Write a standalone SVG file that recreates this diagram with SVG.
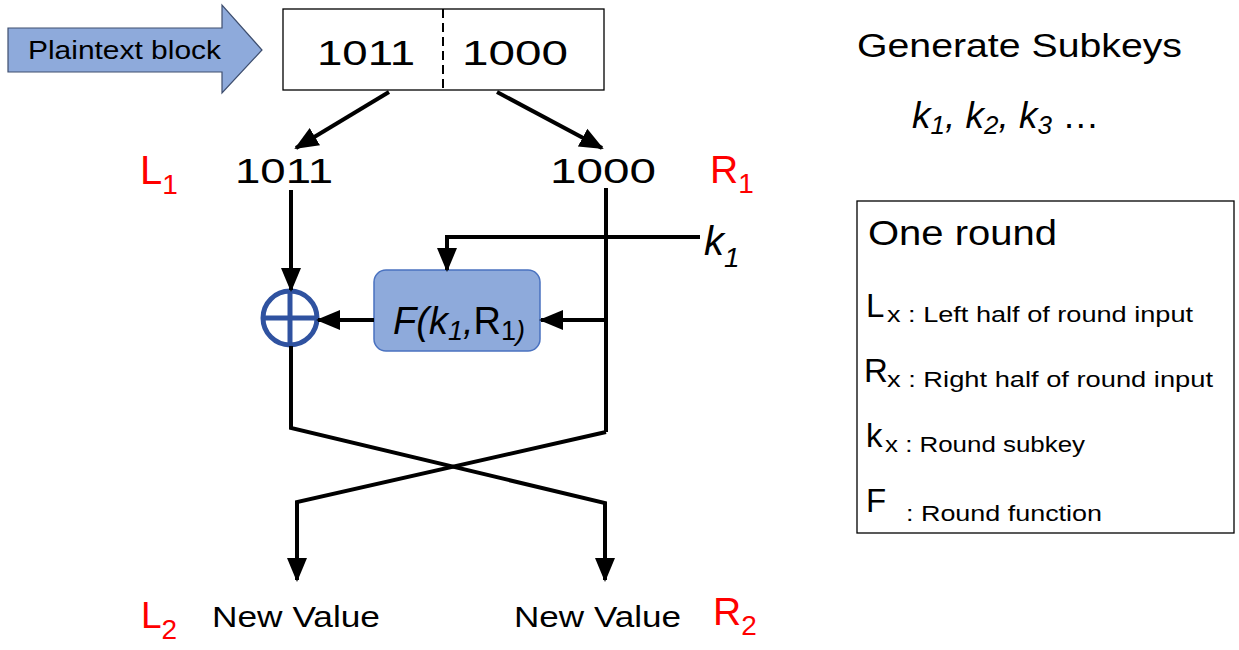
<svg xmlns="http://www.w3.org/2000/svg" width="1239" height="650" viewBox="0 0 1239 650">
<defs>
<style>
.t{font-family:"Liberation Sans","Open Sans",sans-serif;fill:#000}
.red{font-family:"Liberation Sans","Open Sans",sans-serif;fill:#ff0000}
.ln{stroke:#000;stroke-width:4;fill:none}
.it{font-style:italic}
</style>
<marker id="ah" markerUnits="userSpaceOnUse" markerWidth="24" markerHeight="24" viewBox="0 0 24 24" refX="22" refY="12" orient="auto">
<path d="M0,2 L24,12 L0,22 Z" fill="#000"/>
</marker>
</defs>
<rect width="1239" height="650" fill="#fff"/>

<g id="plaintext-arrow">
<path d="M8,28 H222 V5 L262,50 L222,93 V72 H8 Z" fill="#8eaadb" stroke="#3e4e6e" stroke-width="1.2"/>
<text class="t" x="28" y="59" font-size="25" textLength="193" lengthAdjust="spacingAndGlyphs">Plaintext block</text>
</g>

<g id="block">
<rect x="283" y="9" width="321" height="81" fill="#fff" stroke="#000" stroke-width="1.3"/>
<line x1="443" y1="9" x2="443" y2="90" stroke="#000" stroke-width="2" stroke-dasharray="9,5"/>
<text class="t" x="317" y="65" font-size="35" textLength="98" lengthAdjust="spacingAndGlyphs">1011</text>
<text class="t" x="462" y="65" font-size="35" textLength="106" lengthAdjust="spacingAndGlyphs">1000</text>
</g>

<g id="L1">
<text class="t" x="235" y="183" font-size="35" textLength="98" lengthAdjust="spacingAndGlyphs">1011</text>
<text class="red" x="140" y="184" font-size="40">L<tspan font-size="28" dy="10">1</tspan></text>
</g>
<g id="R1">
<text class="t" x="550" y="183" font-size="35" textLength="106" lengthAdjust="spacingAndGlyphs">1000</text>
<text class="red" x="710" y="183" font-size="39">R<tspan font-size="28" dy="10">1</tspan></text>
</g>

<g id="k1">
<text class="t it" x="704" y="255" font-size="40">k<tspan font-size="28" dy="12">1</tspan></text>
</g>

<g id="xor">
<circle cx="290" cy="318" r="27" fill="#fff" stroke="#2f52a0" stroke-width="5"/>
<line x1="263" y1="318" x2="317" y2="318" stroke="#2f52a0" stroke-width="5"/>
<line x1="290" y1="291" x2="290" y2="345" stroke="#2f52a0" stroke-width="5"/>
</g>

<g id="F">
<rect x="374" y="270" width="166" height="81" rx="12" fill="#8eaadb" stroke="#4a72c0" stroke-width="1.5"/>
<text class="t" x="459" y="334" font-size="38" text-anchor="middle"><tspan class="it">F(k</tspan><tspan class="it" font-size="27" dy="6">1</tspan><tspan class="it" dy="-6">,</tspan>R<tspan font-size="27" dy="6">1</tspan><tspan class="it" font-size="27">)</tspan></text>
</g>

<g id="new-values">
<text class="t" x="212" y="627" font-size="30" textLength="168" lengthAdjust="spacingAndGlyphs">New Value</text>
<text class="t" x="514" y="627" font-size="30" textLength="167" lengthAdjust="spacingAndGlyphs">New Value</text>
<text class="red" x="141" y="628" font-size="37">L<tspan font-size="28" dy="11">2</tspan></text>
<text class="red" x="713" y="625" font-size="39">R<tspan font-size="28" dy="10">2</tspan></text>
</g>

<g id="subkeys">
<text class="t" x="857" y="57" font-size="34" textLength="325" lengthAdjust="spacingAndGlyphs">Generate Subkeys</text>
<text class="t it" x="912" y="128" font-size="37">k<tspan font-size="26" dy="6">1</tspan><tspan dy="-6">, k</tspan><tspan font-size="26" dy="6">2</tspan><tspan dy="-6">, k</tspan><tspan font-size="26" dy="6">3</tspan><tspan dy="-6" font-style="normal"> …</tspan></text>
</g>

<g id="legend">
<rect x="857" y="201" width="377" height="332" fill="#fff" stroke="#000" stroke-width="1.3"/>
<text class="t" x="868" y="245" font-size="35" textLength="189" lengthAdjust="spacingAndGlyphs">One round</text>
<text class="t" x="866" y="317" font-size="33">L</text>
<text class="t" x="887" y="322" font-size="22" textLength="306" lengthAdjust="spacingAndGlyphs">x : Left half of round input</text>
<text class="t" x="864" y="382" font-size="33">R</text>
<text class="t" x="887" y="387" font-size="22" textLength="326" lengthAdjust="spacingAndGlyphs">x : Right half of round input</text>
<text class="t" x="866" y="447" font-size="33">k</text>
<text class="t" x="885" y="452" font-size="22" textLength="200" lengthAdjust="spacingAndGlyphs">x : Round subkey</text>
<text class="t" x="866" y="512" font-size="33">F</text>
<text class="t" x="906" y="521" font-size="22" textLength="196" lengthAdjust="spacingAndGlyphs">: Round function</text>
</g>

<g id="connectors">
<line class="ln" x1="389" y1="92" x2="296" y2="148" marker-end="url(#ah)"/>
<line class="ln" x1="497" y1="92" x2="602" y2="148" marker-end="url(#ah)"/>
<line class="ln" x1="291" y1="190" x2="291" y2="290" marker-end="url(#ah)"/>
<polyline class="ln" points="700,237 447,237 447,270" marker-end="url(#ah)"/>
<line class="ln" x1="606" y1="320" x2="541" y2="320" marker-end="url(#ah)"/>
<line class="ln" x1="374" y1="320" x2="318" y2="320" marker-end="url(#ah)"/>
<line class="ln" x1="606" y1="188" x2="606" y2="432"/>
<polyline class="ln" points="291,346 291,428 605,503 605,580" marker-end="url(#ah)"/>
<polyline class="ln" points="606,432 297,502 297,580" marker-end="url(#ah)"/>
</g>
</svg>
